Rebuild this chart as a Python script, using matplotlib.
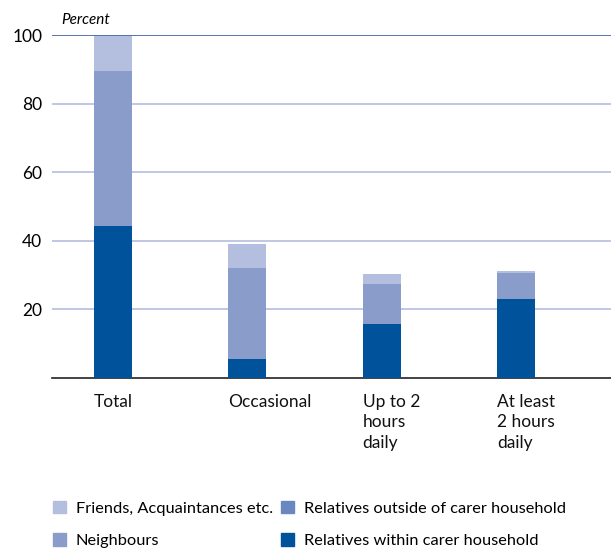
import matplotlib.pyplot as plt
from matplotlib.patches import Patch

plt.rcParams['font.family'] = ['Lato', 'DejaVu Sans']

# data (percent)
categories = ['Total', 'Occasional', 'Up to 2\nhours\ndaily', 'At least\n2 hours\ndaily']
within = [44.3, 5.5, 15.7, 23.0]        # relatives within carer household
outside = [0, 0, 0, 0]                  # relatives outside of carer household
neighbours = [45.2, 26.5, 11.7, 7.6]
friends = [10.5, 7.0, 2.9, 0.6]

c_friends = '#b4bedf'
c_neigh = '#8a9dca'
c_outside = '#6a87c2'
c_within = '#00529b'

fig = plt.figure(figsize=(6.11, 5.49), dpi=100)
ax = fig.add_axes([52 / 611, 1 - 378 / 549, 1 - 52 / 611, (378 - 35) / 549])

x = range(len(categories))
w = 0.284
b1 = [a + b for a, b in zip(within, outside)]
b2 = [a + b for a, b in zip(b1, neighbours)]
ax.bar(x, within, w, color=c_within, zorder=3)
ax.bar(x, outside, w, bottom=within, color=c_outside, zorder=3)
ax.bar(x, neighbours, w, bottom=b1, color=c_neigh, zorder=3)
ax.bar(x, friends, w, bottom=b2, color=c_friends, zorder=3)

ax.set_ylim(0, 100)
ax.set_xlim(-0.455, 3.709)
ax.set_yticks([20, 40, 60, 80, 100])
ax.set_yticklabels(['20', '40', '60', '80', '100'], fontsize=12.5)
ax.tick_params(axis='y', length=0, pad=7)
for yv in [20, 40, 60, 80]:
    ax.axhline(yv, color='#b4bedf', lw=1.2, zorder=1)
ax.axhline(100, color='#4a6aaa', lw=1.3, zorder=4)
for s in ['top', 'right', 'left']:
    ax.spines[s].set_visible(False)
ax.spines['bottom'].set_color('#222222')
ax.spines['bottom'].set_linewidth(1.2)
ax.set_xticks([])
for i, lab in enumerate(categories):
    ax.text(i - w / 2, -4.6, lab, ha='left', va='top', fontsize=12.5,
            linespacing=1.35, color='#111111')

ax.text(-0.455 + 0.07, 102.2, 'Percent', style='italic', fontsize=11,
        ha='left', va='bottom')

handles = [Patch(color=c_friends), Patch(color=c_neigh),
           Patch(color=c_outside), Patch(color=c_within)]
labels = ['Friends, Acquaintances etc.', 'Neighbours',
          'Relatives outside of carer household', 'Relatives within carer household']
fig.legend(handles, labels, ncol=2, loc='lower left', bbox_to_anchor=(0.062, -0.025),
           frameon=False, fontsize=11.8, handlelength=0.8, handleheight=0.8,
           handletextpad=0.6, columnspacing=0.5, labelspacing=1.05)

fig.savefig('out.png', dpi=100)
